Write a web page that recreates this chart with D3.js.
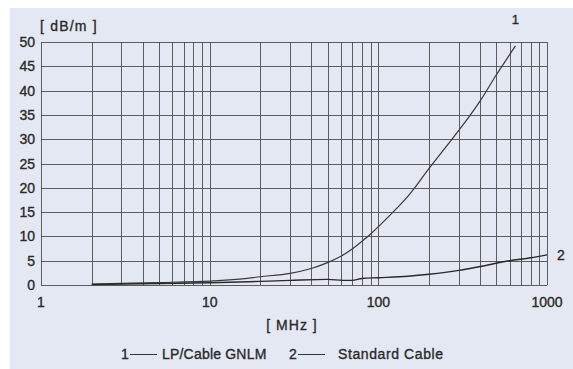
<!DOCTYPE html>
<html>
<head>
<meta charset="utf-8">
<script src="https://cdn.jsdelivr.net/npm/d3@7"></script>
<style>
  body { margin: 0; background: #fff; }
  text { font-family: "Liberation Sans", Arial, sans-serif; fill: #2a2a2a; stroke: #2a2a2a; stroke-width: 0.35; }
</style>
</head>
<body>
<div class="chart"></div>
<script>
// values (MHz -> dB/m)
var freqGnlm = [2, 5, 10, 15, 20, 30, 40, 50, 60, 70, 80, 90, 100, 150, 200, 300, 400, 500, 650];
var lossGnlm = [0.2, 0.5, 0.8, 1.2, 1.7, 2.4, 3.4, 4.6, 5.9, 7.4, 9.0, 10.5, 12.0, 18.3, 24, 31.8, 37.8, 43.2, 49.2];

var freqStd = [2, 5, 10, 20, 30, 50, 62, 70, 80, 100, 150, 200, 300, 400, 600, 800, 1000];
var lossStd = [0.1, 0.3, 0.45, 0.75, 0.95, 1.15, 0.95, 0.95, 1.35, 1.5, 1.8, 2.2, 3.0, 3.8, 5.0, 5.6, 6.2];

var yTicks = [0, 5, 10, 15, 20, 25, 30, 35, 40, 45, 50];
var xTicks = [1, 10, 100, 1000];
var legendNames = ["LP/Cable GNLM", "Standard Cable"];

var W = 573, H = 369;
var mLeft = 41, mRight = 547, mTop = 42, mBottom = 285;

var svg = d3.select(".chart").append("svg")
    .attr("width", W)
    .attr("height", H);

// panel
svg.append("rect")
    .attr("x", 10).attr("y", 8)
    .attr("width", W - 10).attr("height", H - 8)
    .attr("fill", "#e4e8f2");

var x = d3.scaleLog()
    .domain([1, 1000])
    .range([mLeft, mRight]);

var y = d3.scaleLinear()
    .domain([0, 50])
    .range([mBottom, mTop]);

// vertical log grid 1..1000
var gridX = [];
for (var dec = 1; dec < 1000; dec *= 10) {
    for (var k = 1; k < 10; k++) gridX.push(dec * k);
}
gridX.push(1000);

var grid = svg.append("g").attr("stroke", "#444").attr("stroke-width", 1);

grid.selectAll("line.v")
    .data(gridX)
    .enter().append("line")
    .attr("class", "v")
    .attr("x1", function(d){ return Math.round(x(d)) + 0.5; })
    .attr("x2", function(d){ return Math.round(x(d)) + 0.5; })
    .attr("y1", mTop)
    .attr("y2", mBottom)
    .attr("stroke-opacity", 0.85);

grid.selectAll("line.h")
    .data(yTicks)
    .enter().append("line")
    .attr("class", "h")
    .attr("x1", mLeft)
    .attr("x2", mRight)
    .attr("y1", function(d){ return Math.round(y(d)) + 0.5; })
    .attr("y2", function(d){ return Math.round(y(d)) + 0.5; })
    .attr("stroke-opacity", 0.85);

// y labels
svg.append("g").selectAll("text")
    .data(yTicks)
    .enter().append("text")
    .attr("x", 35)
    .attr("y", function(d){ return y(d); })
    .attr("dy", "0.36em")
    .attr("text-anchor", "end")
    .attr("font-size", 14)
    .text(function(d){ return d; });

// x labels
svg.append("g").selectAll("text")
    .data(xTicks)
    .enter().append("text")
    .attr("x", function(d){ return x(d); })
    .attr("y", 302)
    .attr("dy", "0.36em")
    .attr("text-anchor", "middle")
    .attr("font-size", 14)
    .text(function(d){ return d; });

svg.append("text")
    .attr("x", 40).attr("y", 31)
    .attr("font-size", 14)
    .attr("letter-spacing", 1.2)
    .text("[ dB/m ]");

svg.append("text")
    .attr("x", 292).attr("y", 330)
    .attr("text-anchor", "middle")
    .attr("font-size", 14)
    .attr("letter-spacing", 1)
    .text("[ MHz ]");

// curves
var line = d3.line()
    .x(function(d){ return x(d[0]); })
    .y(function(d){ return y(d[1]); });

svg.append("path")
    .datum(d3.zip(freqGnlm, lossGnlm))
    .attr("d", line.curve(d3.curveCatmullRom.alpha(0.5)))
    .attr("fill", "none")
    .attr("stroke", "#3a3a3a")
    .attr("stroke-width", 1.2);

svg.append("path")
    .datum(d3.zip(freqStd, lossStd))
    .attr("d", line.curve(d3.curveMonotoneX))
    .attr("fill", "none")
    .attr("stroke", "#2a2a2a")
    .attr("stroke-width", 1.4);

// curve numbers
svg.append("text")
    .attr("x", x(freqGnlm[freqGnlm.length - 1]))
    .attr("y", 24)
    .attr("text-anchor", "middle")
    .attr("font-size", 13)
    .text("1");

svg.append("text")
    .attr("x", 557)
    .attr("y", 260)
    .attr("font-size", 14)
    .text("2");

// legend
var leg = svg.append("g");
leg.append("text").attr("x", 121).attr("y", 359).attr("font-size", 14).text("1");
leg.append("line").attr("x1", 130).attr("x2", 157).attr("y1", 354.5).attr("y2", 354.5)
    .attr("stroke", "#333").attr("stroke-width", 1);
leg.append("text").attr("x", 162).attr("y", 359).attr("font-size", 14)
    .attr("letter-spacing", 0.2).text(legendNames[0]);
leg.append("text").attr("x", 289).attr("y", 359).attr("font-size", 14).text("2");
leg.append("line").attr("x1", 298).attr("x2", 325).attr("y1", 354.5).attr("y2", 354.5)
    .attr("stroke", "#333").attr("stroke-width", 1);
leg.append("text").attr("x", 338).attr("y", 359).attr("font-size", 14)
    .attr("letter-spacing", 0.6).text(legendNames[1]);
</script>
</body>
</html>
